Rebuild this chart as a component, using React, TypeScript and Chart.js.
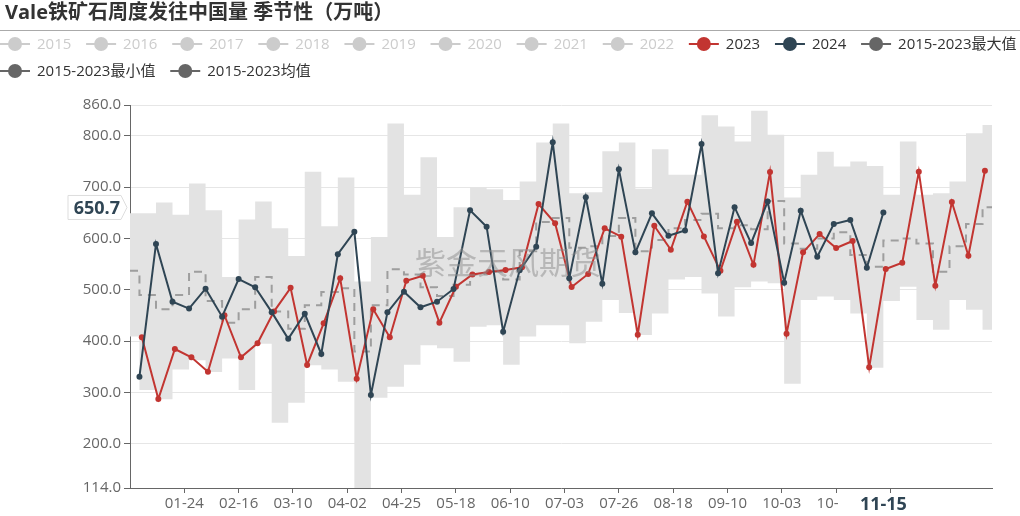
import React, { useEffect, useRef } from "react";
import { Chart, registerables } from "chart.js";

Chart.register(...registerables);

const FONT = '"Open Sans", "Noto Sans CJK SC", sans-serif';

const titleText = "Vale铁矿石周度发往中国量 季节性（万吨）";
const watermarkText = "紫金天风期货";

const legendNames = [
  "2015", "2016", "2017", "2018", "2019", "2020", "2021", "2022",
  "2023", "2024", "2015-2023最大值", "2015-2023最小值", "2015-2023均值",
];
const inactiveLegend = ["2015", "2016", "2017", "2018", "2019", "2020", "2021", "2022"];
const legendColors: Record<string, string> = {
  "2023": "#c23531",
  "2024": "#2f4554",
  "2015-2023最大值": "#666666",
  "2015-2023最小值": "#666666",
  "2015-2023均值": "#666666",
};

const xTickLabels = [
  "01-24", "02-16", "03-10", "04-02", "04-25", "05-18", "06-10",
  "07-03", "07-26", "08-18", "09-10", "10-03", "10-26", "11-18",
];
const yTickValues = [114, 200, 300, 400, 500, 600, 700, 800, 860];
const yMin = 114;
const yMax = 860;

const pointerDate = "11-15";
const pointerValue = 650.7;

const first2023Date = "01-06";
const first2024Date = "01-05";
const firstBandBreak = "01-05";
const lastDate = "12-31";

const values2023 = [
  407.5, 287.4, 384.7, 368.5, 340.6, 450.5, 368.5, 395.8, 458.0, 503.8,
  353.6, 434.8, 522.4, 327.0, 462.0, 407.5, 517.8, 527.5, 436.0, 506.0,
  530.0, 534.7, 538.6, 543.8, 667.0, 629.6, 505.5, 530.8, 619.8, 603.5,
  412.7, 624.7, 578.0, 671.7, 604.0, 537.0, 632.8, 548.7, 729.5, 414.6,
  573.0, 608.7, 581.5, 595.1, 349.0, 540.6, 552.8, 730.1, 508.1, 671.0,
  566.5, 732.0,
];

const values2024 = [
  330.8, 589.5, 476.9, 463.5, 502.3, 447.7, 521.1, 505.0, 456.5, 404.5,
  453.5, 375.0, 569.5, 613.2, 295.1, 456.2, 496.4, 466.0, 476.9, 501.6,
  654.9, 623.0, 418.5, 538.0, 584.0, 787.3, 522.4, 680.5, 512.0, 734.7,
  573.0, 649.0, 605.2, 615.5, 784.0, 532.5, 661.0, 591.0, 672.0, 514.0,
  654.2, 564.6, 628.2, 636.0, 543.1, 650.7,
];

const maxValues = [
  649, 649, 670, 646, 707, 655, 525, 637, 672, 620,
  566, 730, 624, 719, 516, 603, 824, 685, 758, 603,
  661, 700, 696, 675, 711, 787, 824, 688, 690, 770,
  787, 697, 774, 724, 724, 840, 818, 789, 849, 802,
  680, 724, 769, 740, 750, 741, 685, 789, 685, 688,
  711, 805, 821,
];

const minValues = [
  409, 305, 287, 345, 363, 340, 366, 305, 395, 241,
  280, 353, 345, 321, 114, 290, 311, 354, 392, 386,
  360, 428, 431, 354, 409, 431, 431, 396, 438, 480,
  455, 412, 454, 520, 525, 493, 448, 505, 516, 513,
  317, 480, 487, 480, 454, 348, 478, 506, 441, 422,
  480, 461, 422,
];

const meanValues = [
  537, 490, 462, 490, 535, 478, 436, 462, 525, 458,
  424, 470, 496, 503, 380, 470, 540, 530, 505, 488,
  510, 530, 535, 520, 575, 632, 640, 582, 585, 605,
  640, 575, 597, 620, 636, 648, 620, 626, 618, 673,
  590, 580, 600, 612, 568, 545, 596, 600, 590, 535,
  585, 628, 661,
];

const CUM_DAYS = [0, 31, 60, 91, 121, 152, 182, 213, 244, 274, 305, 335];
function dayOfYear(mmdd: string): number {
  const [m, d] = mmdd.split("-").map(Number);
  return CUM_DAYS[m - 1] + d - 1;
}

const WEEK = 7;

function weeklyPoints(values: number[], startDate: string) {
  const start = dayOfYear(startDate);
  return values.map((v, i) => ({ x: start + WEEK * i, y: v }));
}

function stepPoints(values: number[]) {
  const first = dayOfYear(firstBandBreak);
  const pts = values.map((v, k) => ({ x: k === 0 ? 0 : first + WEEK * (k - 1), y: v }));
  pts.push({ x: dayOfYear(lastDate), y: values[values.length - 1] });
  return pts;
}

const overlayPlugin = {
  id: "overlay",
  afterDatasetsDraw(chart: any) {
    const ctx = chart.ctx;
    const area = chart.chartArea;
    ctx.save();
    ctx.font = `31px "Noto Sans CJK SC", sans-serif`;
    ctx.fillStyle = "rgba(140,140,140,0.5)";
    ctx.textAlign = "center";
    ctx.textBaseline = "middle";
    ctx.fillText(watermarkText, (area.left + area.right) / 2 - 53, 262);
    ctx.restore();
  },
  afterDraw(chart: any) {
    const ctx = chart.ctx;
    const xs = chart.scales.x;
    const ys = chart.scales.y;
    ctx.save();
    // title
    ctx.font = `bold 20px ${FONT}`;
    ctx.fillStyle = "#333";
    ctx.textAlign = "left";
    ctx.textBaseline = "middle";
    ctx.fillText(titleText, 5, 13);
    ctx.strokeStyle = "#aaaaaa";
    ctx.lineWidth = 1;
    ctx.beginPath();
    ctx.moveTo(0, 30.5);
    ctx.lineTo(chart.width, 30.5);
    ctx.stroke();

    // legend
    ctx.font = `15px ${FONT}`;
    const rows = [legendNames.slice(0, 11), legendNames.slice(11)];
    const rowY = [44, 71];
    rows.forEach((row, ri) => {
      let x0 = 0;
      const y = rowY[ri];
      row.forEach((name) => {
        const inactive = inactiveLegend.includes(name);
        const color = inactive ? "#cccccc" : legendColors[name];
        ctx.strokeStyle = color;
        ctx.fillStyle = color;
        ctx.lineWidth = 2;
        ctx.beginPath();
        ctx.moveTo(x0, y);
        ctx.lineTo(x0 + 30, y);
        ctx.stroke();
        ctx.beginPath();
        ctx.arc(x0 + 15, y, 7, 0, Math.PI * 2);
        ctx.fill();
        ctx.fillStyle = inactive ? "#cccccc" : "#333333";
        ctx.textAlign = "left";
        ctx.textBaseline = "middle";
        ctx.fillText(name, x0 + 37, y + 1);
        x0 += 37 + ctx.measureText(name).width + 14.8;
      });
    });

    // x pointer label
    const px = xs.getPixelForValue(dayOfYear(pointerDate));
    ctx.fillStyle = "#ffffff";
    ctx.fillRect(px - 45, chart.chartArea.bottom + 6, 92, 22);
    ctx.font = `bold 18px ${FONT}`;
    ctx.fillStyle = "#2f4554";
    ctx.textAlign = "center";
    ctx.textBaseline = "middle";
    ctx.fillText(pointerDate, px, chart.chartArea.bottom + 17);

    // y pointer label
    const py = ys.getPixelForValue(pointerValue) - 5;
    const left = 68;
    const right = 121;
    const tip = 127;
    ctx.beginPath();
    ctx.moveTo(left, py - 12);
    ctx.lineTo(right, py - 12);
    ctx.lineTo(tip, py);
    ctx.lineTo(right, py + 12);
    ctx.lineTo(left, py + 12);
    ctx.closePath();
    ctx.fillStyle = "#ffffff";
    ctx.fill();
    ctx.strokeStyle = "#dddddd";
    ctx.lineWidth = 1;
    ctx.stroke();
    ctx.fillStyle = "#2f4554";
    ctx.textAlign = "right";
    ctx.fillText(pointerValue.toFixed(1), right - 1, py + 1);
    ctx.restore();
  },
};

export default function App() {
  const canvasRef = useRef<HTMLCanvasElement | null>(null);

  useEffect(() => {
    if (!canvasRef.current) return;
    const lineStyle = (color: string) => ({
      borderColor: color,
      backgroundColor: color,
      pointBackgroundColor: color,
      pointBorderColor: color,
      borderWidth: 2,
      pointRadius: 3,
      pointBorderWidth: 0,
      tension: 0,
      fill: false,
    });
    const chart = new Chart(canvasRef.current, {
      type: "line",
      data: {
        datasets: [
          { label: "2024", data: weeklyPoints(values2024, first2024Date), order: 0, ...lineStyle("#2f4554") },
          { label: "2023", data: weeklyPoints(values2023, first2023Date), order: 1, ...lineStyle("#c23531") },
          {
            label: "2015-2023均值",
            data: stepPoints(meanValues),
            stepped: true,
            borderColor: "rgba(150,150,150,0.9)",
            borderDash: [8, 6],
            borderWidth: 2,
            pointRadius: 0,
            fill: false,
            order: 2,
          },
          {
            label: "2015-2023最大值",
            data: stepPoints(maxValues),
            stepped: true,
            borderColor: "rgba(0,0,0,0)",
            borderWidth: 1,
            pointRadius: 0,
            backgroundColor: "#e3e3e3",
            fill: "+1",
            order: 3,
          },
          {
            label: "2015-2023最小值",
            data: stepPoints(minValues),
            stepped: true,
            borderColor: "rgba(0,0,0,0)",
            borderWidth: 1,
            pointRadius: 0,
            fill: false,
            order: 4,
          },
        ],
      } as any,
      options: {
        animation: false,
        responsive: true,
        maintainAspectRatio: false,
        events: [],
        layout: { padding: { top: 105, right: 28, left: 0, bottom: 0 } },
        plugins: {
          legend: { display: false },
          tooltip: { enabled: false },
          title: { display: false },
        },
        scales: {
          x: {
            type: "linear",
            min: 0,
            max: dayOfYear(lastDate),
            afterBuildTicks: (s: any) => {
              s.ticks = xTickLabels.map((l) => ({ value: dayOfYear(l) }));
            },
            afterFit: (s: any) => {
              s.height = 28;
            },
            ticks: {
              autoSkip: false,
              maxRotation: 0,
              minRotation: 0,
              padding: 2,
              color: "#666",
              font: { family: FONT, size: 15 },
              callback: (_v: any, i: number) => xTickLabels[i],
            },
            grid: { drawOnChartArea: false, drawTicks: true, tickLength: 5, tickColor: "#666" },
            border: { display: true, color: "#666", width: 1 },
          },
          y: {
            type: "linear",
            min: yMin,
            max: yMax,
            afterBuildTicks: (s: any) => {
              s.ticks = yTickValues.map((v) => ({ value: v }));
            },
            afterFit: (s: any) => {
              s.width = 130;
            },
            ticks: {
              autoSkip: false,
              padding: 3,
              color: "#666",
              font: { family: FONT, size: 15 },
              callback: (v: any) => Number(v).toFixed(1),
            },
            grid: {
              color: (c: any) => (c.tick && c.tick.value === yMin ? "rgba(0,0,0,0)" : "#e6e6e6"),
              tickColor: "#666",
              tickLength: 6,
              drawTicks: true,
              lineWidth: 1,
            },
            border: { display: true, color: "#666", width: 1 },
          },
        },
      } as any,
      plugins: [overlayPlugin],
    });
    return () => chart.destroy();
  }, []);

  return (
    <div style={{ position: "fixed", left: 0, top: 0, width: 1020, height: 516, background: "#fff" }}>
      <canvas ref={canvasRef} />
    </div>
  );
}
